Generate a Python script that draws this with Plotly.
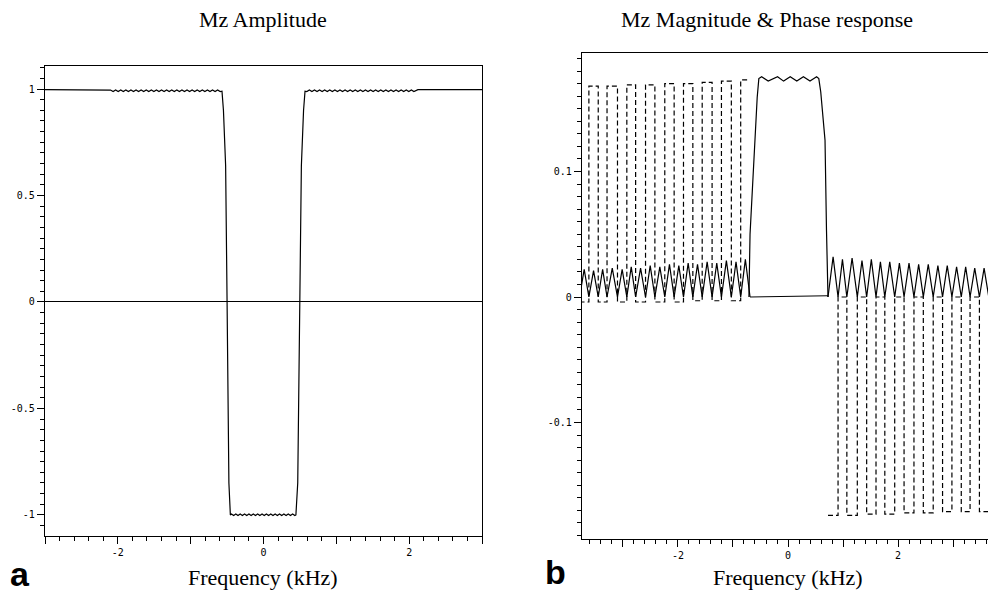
import plotly.graph_objects as go

# ---------------- Panel a: Mz amplitude ----------------
mz_freq = ([-3.0, -2.12]
           + [-2.100, -2.065, -2.030, -1.995, -1.960, -1.925, -1.890, -1.855, -1.820, -1.785, -1.750,
              -1.715, -1.680, -1.645, -1.610, -1.575, -1.540, -1.505, -1.470, -1.435, -1.400, -1.365,
              -1.330, -1.295, -1.260, -1.225, -1.190, -1.155, -1.120, -1.085, -1.050, -1.015, -0.980,
              -0.945, -0.910, -0.875, -0.840, -0.805, -0.770, -0.735, -0.700, -0.665, -0.630, -0.595]
           + [-0.57, -0.55, -0.52, -0.50, -0.475, -0.455]
           + [-0.44, -0.41, -0.38, -0.35, -0.32, -0.29, -0.26, -0.23, -0.20, -0.17, -0.14, -0.11,
              -0.08, -0.05, -0.02, 0.01, 0.04, 0.07, 0.10, 0.13, 0.16, 0.19, 0.22, 0.25, 0.28, 0.31,
              0.34, 0.37, 0.40, 0.43]
           + [0.445, 0.47, 0.50, 0.52, 0.55, 0.57]
           + [0.595, 0.630, 0.665, 0.700, 0.735, 0.770, 0.805, 0.840, 0.875, 0.910, 0.945, 0.980,
              1.015, 1.050, 1.085, 1.120, 1.155, 1.190, 1.225, 1.260, 1.295, 1.330, 1.365, 1.400,
              1.435, 1.470, 1.505, 1.540, 1.575, 1.610, 1.645, 1.680, 1.715, 1.750, 1.785, 1.820,
              1.855, 1.890, 1.925, 1.960, 1.995, 2.030, 2.065, 2.100]
           + [2.12, 3.0])
mz_amp = ([0.997, 0.997]
          + [0.995, 0.988] * 22
          + [0.99, 0.90, 0.64, 0.0, -0.85, -1.0]
          + [-0.996, -1.003] * 15
          + [-1.0, -0.85, 0.0, 0.64, 0.90, 0.99]
          + [0.988, 0.995] * 22
          + [0.997, 0.997])

# ---------------- Panel b: magnitude & phase ----------------
mag_left_zero = [-3.79, -3.62, -3.45, -3.29, -3.10, -2.93, -2.77, -2.59, -2.42, -2.24,
                 -2.07, -1.90, -1.73, -1.56, -1.38, -1.21, -1.03, -0.86, -0.69]
mag_left_peak_f = [-3.705, -3.535, -3.37, -3.195, -3.015, -2.85, -2.68, -2.505, -2.33,
                   -2.155, -1.985, -1.815, -1.645, -1.47, -1.295, -1.12, -0.945, -0.775]
mag_left_peak = [0.022, 0.021, 0.022, 0.023, 0.022, 0.024, 0.023, 0.025, 0.024,
                 0.026, 0.025, 0.027, 0.026, 0.028, 0.027, 0.029, 0.028, 0.030]
mag_pass_f = [-0.71, -0.69, -0.56, -0.53, -0.48, -0.36, -0.19, -0.08, 0.04, 0.16, 0.28,
              0.40, 0.52, 0.56, 0.595, 0.673, 0.70, 0.727]
mag_pass = [0.0, 0.05, 0.159, 0.174, 0.1755, 0.172, 0.1755, 0.172, 0.1755, 0.172, 0.1755,
            0.172, 0.1755, 0.174, 0.1635, 0.125, 0.053, 0.0]
mag_right_zero = [0.727, 0.91, 1.07, 1.26, 1.43, 1.60, 1.76, 1.94, 2.11, 2.29, 2.46,
                  2.64, 2.81, 2.98, 3.15, 3.31, 3.48, 3.65]
mag_right_peak_f = [0.82, 0.99, 1.165, 1.345, 1.515, 1.68, 1.85, 2.025, 2.20, 2.375,
                    2.55, 2.725, 2.895, 3.065, 3.23, 3.395, 3.565]
mag_right_peak = [0.032, 0.030, 0.031, 0.029, 0.030, 0.028, 0.028, 0.027, 0.027,
                  0.026, 0.026, 0.025, 0.025, 0.024, 0.024, 0.023, 0.023]

phase_left_level = [-0.004, 0.168, -0.004, 0.168, -0.004, 0.169, -0.004, 0.169, -0.004,
                    0.170, -0.004, 0.170, -0.003, 0.171, -0.003, 0.172, -0.003, 0.173]
phase_pass_f = [-0.69, 0.727]
phase_pass = [0.0, 0.001]
phase_right_level = [-0.174, 0.0, -0.174, 0.0, -0.173, 0.0, -0.173, 0.0, -0.172,
                     0.0, -0.172, 0.0, -0.171, 0.0, -0.171, 0.0, -0.171]

titles = ["Mz Amplitude", "Mz Magnitude &amp; Phase response"]
x_title = "Frequency (kHz)"
panel_labels = ["a", "b"]


def interleave(zeros, peak_f, peaks):
    xs, ys = [], []
    for i, p in enumerate(peaks):
        xs += [zeros[i], peak_f[i]]
        ys += [0.0, p]
    xs.append(zeros[len(peaks)])
    ys.append(0.0)
    return xs, ys


ml_x, ml_y = interleave(mag_left_zero, mag_left_peak_f, mag_left_peak)
mr_x, mr_y = interleave(mag_right_zero, mag_right_peak_f, mag_right_peak)

LINE = dict(color="black", width=1.2)
DASH = dict(color="black", width=1.2, dash="5px,3px")

fig = go.Figure()
fig.add_trace(go.Scatter(x=mz_freq, y=mz_amp, mode="lines", line=LINE, xaxis="x", yaxis="y"))
fig.add_trace(go.Scatter(x=ml_x, y=ml_y, mode="lines", line=LINE, xaxis="x2", yaxis="y2"))
fig.add_trace(go.Scatter(x=mag_pass_f, y=mag_pass, mode="lines", line=LINE, xaxis="x2", yaxis="y2"))
fig.add_trace(go.Scatter(x=mr_x, y=mr_y, mode="lines", line=LINE, xaxis="x2", yaxis="y2"))
fig.add_trace(go.Scatter(x=mag_left_zero, y=phase_left_level + [phase_left_level[-1]],
                         mode="lines", line=DASH, line_shape="hv", xaxis="x2", yaxis="y2"))
fig.add_trace(go.Scatter(x=phase_pass_f, y=phase_pass, mode="lines",
                         line=dict(color="black", width=1), xaxis="x2", yaxis="y2"))
fig.add_trace(go.Scatter(x=mag_right_zero, y=phase_right_level + [phase_right_level[-1]],
                         mode="lines", line=DASH, line_shape="hv", xaxis="x2", yaxis="y2"))

TICKFONT = dict(family="DejaVu Sans Mono", size=10, color="black")
xt_vals = [-3, -2, -1, 0, 1, 2, 3]
xt_text = ["", "-2", "", "0", "", "2", ""]
ax_common = dict(showgrid=False, showline=True, linecolor="black", linewidth=1.2,
                 ticks="outside", tickcolor="black", ticklen=7, tickwidth=1,
                 tickfont=TICKFONT, zeroline=False, tickmode="array")

fig.update_layout(
    width=988, height=593, margin=dict(l=0, r=0, t=0, b=0),
    paper_bgcolor="white", plot_bgcolor="white", showlegend=False,
    xaxis=dict(ax_common, domain=[45 / 988, 482 / 988], range=[-3.0, 3.0], anchor="y",
               tickvals=xt_vals, ticktext=xt_text, mirror=True,
               minor=dict(dtick=0.2, tick0=0, ticklen=4, ticks="outside", tickcolor="black")),
    yaxis=dict(ax_common, domain=[(593 - 536) / 593, (593 - 66) / 593], range=[-1.099, 1.108],
               anchor="x", tickvals=[-1, -0.5, 0, 0.5, 1],
               ticktext=["-1", "-0.5", "0", "0.5", "1"], mirror=True,
               zeroline=True, zerolinecolor="black", zerolinewidth=1.2,
               minor=dict(dtick=0.05, tick0=0, ticklen=4, ticks="outside", tickcolor="black")),
    xaxis2=dict(ax_common, domain=[582 / 988, 1.0], range=[-3.745, 3.636], anchor="y2",
                tickvals=xt_vals, ticktext=xt_text, mirror=True,
                minor=dict(dtick=0.2, tick0=0, ticklen=4, ticks="outside", tickcolor="black")),
    yaxis2=dict(ax_common, domain=[(593 - 539) / 593, (593 - 53) / 593], range=[-0.1928, 0.1944],
                anchor="x2", tickvals=[-0.1, 0, 0.1], ticktext=["-0.1", "0", "0.1"],
                minor=dict(dtick=0.01, tick0=0, ticklen=4, ticks="outside", tickcolor="black")),
)


def serif():
    return dict(family="Liberation Serif", size=22, color="black")


def bold_sans():
    return dict(family="Liberation Sans", size=34, color="black")


annos = [
    (titles[0], 263, 20, serif()),
    (titles[1], 767, 20, serif()),
    (x_title, 263, 577, serif()),
    (x_title, 788, 577, serif()),
    ("<b>" + panel_labels[0] + "</b>", 20, 574, bold_sans()),
    ("<b>" + panel_labels[1] + "</b>", 555, 572, bold_sans()),
]
for text, px, py, font in annos:
    fig.add_annotation(text=text, x=px / 988, y=1 - py / 593, xref="paper", yref="paper",
                       xanchor="center", yanchor="middle", showarrow=False, font=font)

fig.write_html("out.html", config={"displayModeBar": False},
               post_script="document.body.style.margin='0px';document.body.style.overflow='hidden';")
